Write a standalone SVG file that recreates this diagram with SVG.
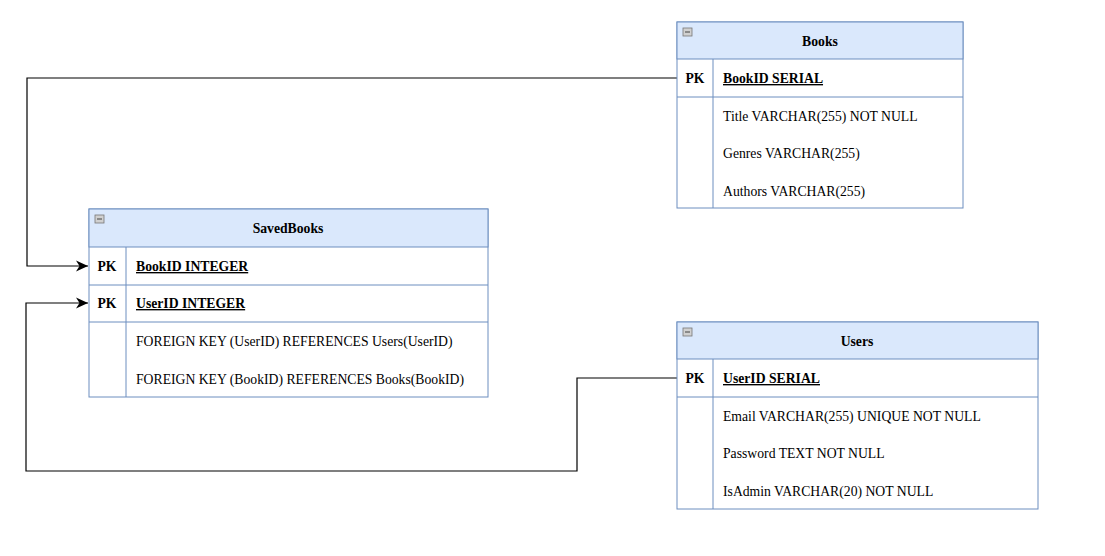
<svg xmlns="http://www.w3.org/2000/svg" width="1105" height="556" viewBox="0 0 1105 556" font-family="'Liberation Serif', 'Times New Roman', 'DejaVu Serif', serif">
<style>
.hdr{fill:#dae8fc;stroke:#6c8ebf;stroke-width:1}
.box{fill:#ffffff;stroke:#6c8ebf;stroke-width:1}
.ln{stroke:#6c8ebf;stroke-width:1;fill:none}
text{font-family:'Liberation Serif','Times New Roman','DejaVu Serif',serif;font-size:13.7px;fill:#000}
.t{font-weight:bold;text-anchor:middle}
.pk{font-weight:bold;text-anchor:middle}
.k{font-weight:bold;text-decoration:underline}
.icon{fill:#d0d0d0;stroke:#777;stroke-width:0.8}
.conn{fill:none;stroke:#000;stroke-width:1.2}
</style>
<defs>
<marker id="arr" markerWidth="14" markerHeight="14" refX="12" refY="6" orient="auto" markerUnits="userSpaceOnUse">
<path d="M0,0.5 L12,6 L0,11.5 L3.5,6 Z" fill="#000"/>
</marker>
</defs>
<g id="connectors">
<path class="conn" d="M677,78 H27 V266 H88" marker-end="url(#arr)"/>
<path class="conn" d="M677,378 H577 V471 H26 V303 H88" marker-end="url(#arr)"/>
</g>
<g id="Books">
<rect class="box" x="677" y="22" width="286" height="186"/>
<rect class="hdr" x="677" y="22" width="286" height="37"/>
<rect class="icon" x="683" y="28" width="9" height="8"/><line x1="685" y1="32" x2="690" y2="32" stroke="#444"/>
<text class="t" x="820" y="46">Books</text>
<line class="ln" x1="677" y1="97" x2="963" y2="97"/>
<line class="ln" x1="713" y1="59" x2="713" y2="208"/>
<text class="pk" x="695" y="83">PK</text>
<text class="k" x="723" y="83">BookID SERIAL</text>
<text x="723" y="121">Title VARCHAR(255) NOT NULL</text>
<text x="723" y="158">Genres VARCHAR(255)</text>
<text x="723" y="196">Authors VARCHAR(255)</text>
</g>
<g id="SavedBooks">
<rect class="box" x="89" y="209" width="399" height="188"/>
<rect class="hdr" x="89" y="209" width="399" height="38"/>
<rect class="icon" x="95" y="215" width="9" height="8"/><line x1="97" y1="219" x2="102" y2="219" stroke="#444"/>
<text class="t" x="288" y="233">SavedBooks</text>
<line class="ln" x1="89" y1="285" x2="488" y2="285"/>
<line class="ln" x1="89" y1="322" x2="488" y2="322"/>
<line class="ln" x1="126" y1="247" x2="126" y2="397"/>
<text class="pk" x="107" y="271">PK</text>
<text class="k" x="136" y="271">BookID INTEGER</text>
<text class="pk" x="107" y="308">PK</text>
<text class="k" x="136" y="308">UserID INTEGER</text>
<text x="136" y="346">FOREIGN KEY (UserID) REFERENCES Users(UserID)</text>
<text x="136" y="384">FOREIGN KEY (BookID) REFERENCES Books(BookID)</text>
</g>
<g id="Users">
<rect class="box" x="677" y="322" width="361" height="187"/>
<rect class="hdr" x="677" y="322" width="361" height="37"/>
<rect class="icon" x="683" y="328" width="9" height="8"/><line x1="685" y1="332" x2="690" y2="332" stroke="#444"/>
<text class="t" x="857" y="346">Users</text>
<line class="ln" x1="677" y1="397" x2="1038" y2="397"/>
<line class="ln" x1="713" y1="359" x2="713" y2="509"/>
<text class="pk" x="695" y="383">PK</text>
<text class="k" x="723" y="383">UserID SERIAL</text>
<text x="723" y="421">Email VARCHAR(255) UNIQUE NOT NULL</text>
<text x="723" y="458">Password TEXT NOT NULL</text>
<text x="723" y="496">IsAdmin VARCHAR(20) NOT NULL</text>
</g>
</svg>
